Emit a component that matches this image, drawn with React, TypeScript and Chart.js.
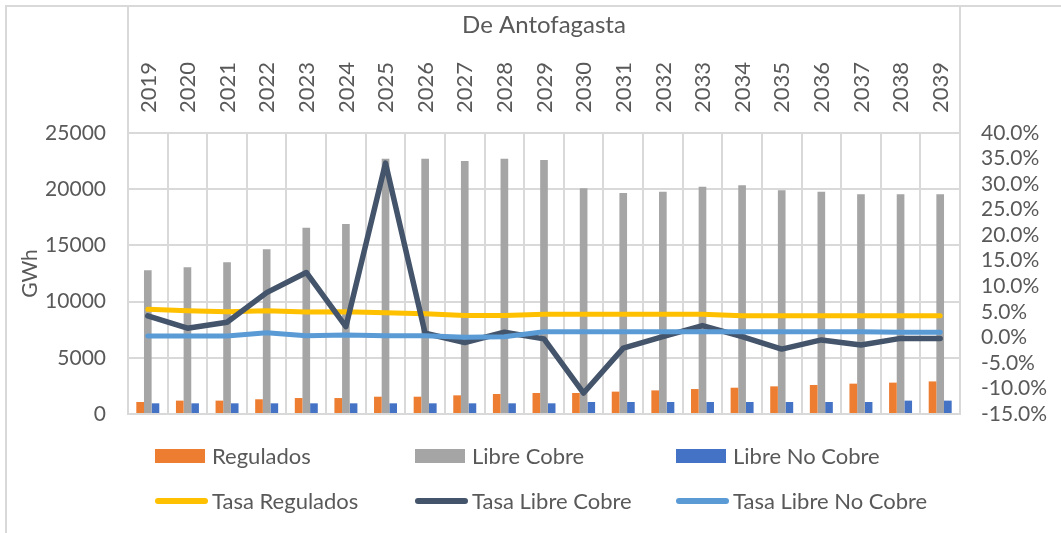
import React, { useEffect, useRef } from "react";
import { Chart, registerables } from "chart.js";

Chart.register(...registerables);

const years = ["2019","2020","2021","2022","2023","2024","2025","2026","2027","2028","2029","2030","2031","2032","2033","2034","2035","2036","2037","2038","2039"];
const regulados = [1070,1190,1190,1310,1420,1420,1540,1540,1660,1780,1870,1870,1990,2100,2220,2340,2460,2580,2700,2790,2900];
const libreCobre = [12800,13050,13500,14650,16580,16900,22720,22720,22500,22720,22600,20080,19660,19780,20220,20350,19900,19780,19550,19550,19550];
const libreNoCobre = [950,950,950,950,950,950,950,950,950,950,950,1070,1070,1070,1070,1070,1070,1070,1070,1190,1190];
const tasaRegulados = [0.055,0.052,0.050,0.052,0.0495,0.050,0.048,0.046,0.043,0.043,0.045,0.045,0.045,0.045,0.045,0.0425,0.0425,0.0425,0.0425,0.0425,0.0425];
const tasaLibreCobre = [0.042,0.018,0.0295,0.0875,0.127,0.021,0.341,0.008,-0.010,0.010,-0.003,-0.109,-0.021,0.0015,0.023,0.0015,-0.023,-0.005,-0.015,-0.002,-0.002];
const tasaLibreNoCobre = [0.0027,0.0027,0.0027,0.009,0.003,0.0047,0.003,0.003,0.0,0.001,0.011,0.011,0.011,0.011,0.011,0.011,0.011,0.011,0.011,0.010,0.010];
const leftTicks = { min: 0, max: 25000, step: 5000 };
const rightTicks = { min: -0.15, max: 0.4, step: 0.05 };

const FONT = "Lato";
const TEXT = "#595959";
const GRID = "#d9d9d9";

const legendItems = [
  { label: "Regulados", color: "#ED7D31", kind: "box" },
  { label: "Libre Cobre", color: "#A5A5A5", kind: "box" },
  { label: "Libre No Cobre", color: "#4472C4", kind: "box" },
  { label: "Tasa Regulados", color: "#FFC000", kind: "line" },
  { label: "Tasa Libre Cobre", color: "#44546A", kind: "line" },
  { label: "Tasa Libre No Cobre", color: "#5B9BD5", kind: "line" },
];

const framePlugin = {
  id: "frame",
  beforeDraw(chart: any) {
    const { ctx, chartArea } = chart;
    ctx.save();
    ctx.strokeStyle = GRID;
    ctx.lineWidth = 2;
    ctx.beginPath();
    ctx.moveTo(6, chart.height + 10);
    ctx.lineTo(6, 6);
    ctx.lineTo(chart.width + 10, 6);
    ctx.moveTo(chartArea.left, 7);
    ctx.lineTo(chartArea.left, chartArea.top);
    ctx.moveTo(chartArea.right, 7);
    ctx.lineTo(chartArea.right, chartArea.top);
    ctx.stroke();
    ctx.restore();
  },
  afterDraw(chart: any) {
    const { ctx, chartArea } = chart;
    ctx.save();
    ctx.font = `22px ${FONT}`;
    ctx.fillStyle = TEXT;
    ctx.textBaseline = "middle";
    ctx.textAlign = "left";
    const colX = [27, 287, 548];
    const rowY = [chartArea.bottom + 42, chartArea.bottom + 87];
    legendItems.forEach((it, i) => {
      const x = chartArea.left + colX[i % 3];
      const y = rowY[Math.floor(i / 3)];
      if (it.kind === "box") {
        ctx.fillStyle = it.color;
        ctx.fillRect(x, y - 7, 50, 14);
      } else {
        ctx.strokeStyle = it.color;
        ctx.lineWidth = 6;
        ctx.lineCap = "round";
        ctx.beginPath();
        ctx.moveTo(x + 3, y);
        ctx.lineTo(x + 50, y);
        ctx.stroke();
      }
      ctx.fillStyle = TEXT;
      ctx.fillText(it.label, x + 57, y + 1);
    });
    ctx.restore();
  },
};

export default function App() {
  const ref = useRef<HTMLCanvasElement>(null);
  useEffect(() => {
    if (!ref.current) return;
    const chart = new Chart(ref.current, {
      type: "bar",
      data: {
        labels: years,
        datasets: [
          { type: "line", label: "Tasa Regulados", data: tasaRegulados, yAxisID: "y1", borderColor: "#FFC000", backgroundColor: "#FFC000", borderWidth: 5, pointRadius: 0, borderJoinStyle: "round", borderCapStyle: "round", order: 2 } as any,
          { type: "line", label: "Tasa Libre Cobre", data: tasaLibreCobre, yAxisID: "y1", borderColor: "#44546A", backgroundColor: "#44546A", borderWidth: 5.5, pointRadius: 0, borderJoinStyle: "round", borderCapStyle: "round", order: 1 } as any,
          { type: "line", label: "Tasa Libre No Cobre", data: tasaLibreNoCobre, yAxisID: "y1", borderColor: "#5B9BD5", backgroundColor: "#5B9BD5", borderWidth: 5, pointRadius: 0, borderJoinStyle: "round", borderCapStyle: "round", order: 0 } as any,
          { type: "bar", label: "Regulados", data: regulados, yAxisID: "y", backgroundColor: "#ED7D31", categoryPercentage: 0.58, barPercentage: 1, order: 3 } as any,
          { type: "bar", label: "Libre Cobre", data: libreCobre, yAxisID: "y", backgroundColor: "#A5A5A5", categoryPercentage: 0.58, barPercentage: 1, order: 3 } as any,
          { type: "bar", label: "Libre No Cobre", data: libreNoCobre, yAxisID: "y", backgroundColor: "#4472C4", categoryPercentage: 0.58, barPercentage: 1, order: 3 } as any,
        ],
      },
      options: {
        animation: false,
        responsive: false,
        maintainAspectRatio: false,
        layout: { padding: { left: 0, right: 0, top: 0, bottom: 119 } },
        plugins: {
          legend: { display: false },
          tooltip: { enabled: false },
          title: { display: false },
        },
        scales: {
          x: {
            position: "top",
            offset: true,
            afterFit: (s: any) => { s.height = 133; },
            grid: { color: GRID, lineWidth: 2, drawTicks: false, offset: true },
            border: { color: GRID, width: 2 },
            ticks: { color: TEXT, font: { family: FONT, size: 22 }, minRotation: 90, maxRotation: 90, padding: 20, labelOffset: 27, autoSkip: false },
            title: { display: true, text: "De Antofagasta", color: TEXT, font: { family: FONT, size: 24 }, padding: { top: 11, bottom: 0 } },
          },
          y: {
            position: "left",
            min: leftTicks.min,
            max: leftTicks.max,
            afterFit: (s: any) => { s.width = 128; },
            grid: { color: GRID, lineWidth: 2, drawTicks: false },
            border: { color: GRID, width: 2 },
            ticks: { stepSize: leftTicks.step, color: TEXT, font: { family: FONT, size: 21 }, padding: 22, autoSkip: false, callback: (v: any) => String(v) },
            title: { display: true, text: "GWh", color: TEXT, font: { family: FONT, size: 21 }, padding: { top: 18, bottom: 0 } },
          },
          y1: {
            position: "right",
            min: rightTicks.min,
            max: rightTicks.max,
            afterFit: (s: any) => { s.width = 101; },
            grid: { display: false, drawTicks: false },
            border: { color: GRID, width: 2 },
            ticks: {
              stepSize: rightTicks.step,
              autoSkip: false,
              color: TEXT,
              font: { family: FONT, size: 21 },
              padding: 21,
              callback: (v: any) => (Number(v) * 100).toFixed(1) + "%",
            },
          },
        },
      },
      plugins: [framePlugin],
    });
    return () => chart.destroy();
  }, []);
  return (
    <div style={{ position: "fixed", left: 0, top: 0, width: 1061, height: 533, background: "#fff" }}>
      <canvas ref={ref} width={1061} height={533} style={{ width: 1061, height: 533, display: "block" }} />
    </div>
  );
}
